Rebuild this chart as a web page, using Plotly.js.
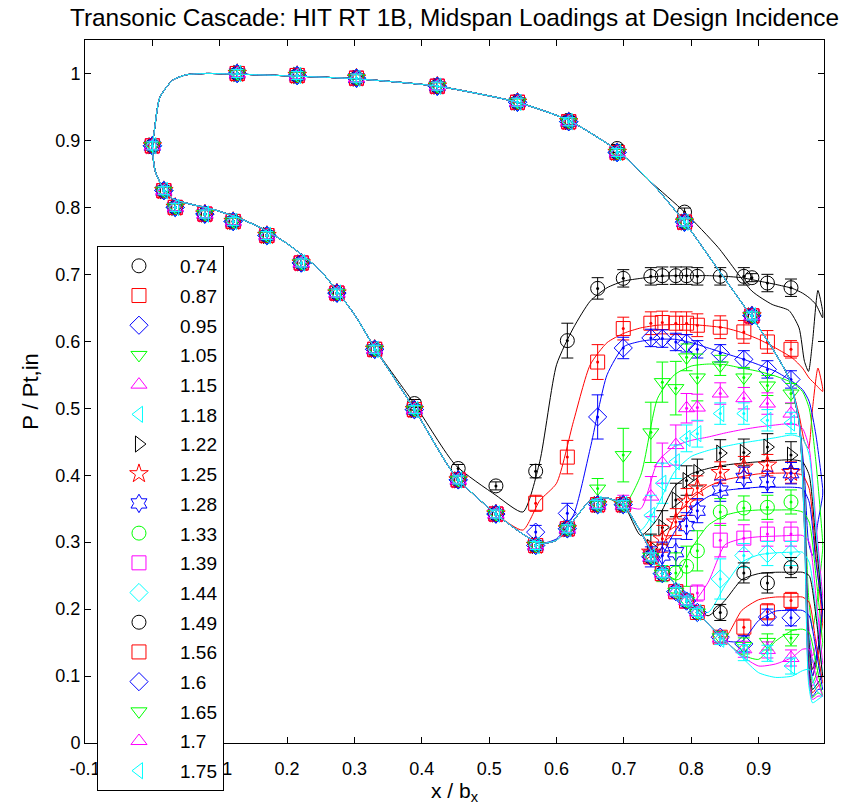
<!DOCTYPE html>
<html><head><meta charset="utf-8">
<script src="https://cdn.plot.ly/plotly-3.0.1.min.js"></script>
<style>body{margin:0;background:#fff}#chart{width:844px;height:810px}</style>
</head><body><div id="chart"></div>
<script>
const TITLE = 'Transonic Cascade: HIT RT 1B, Midspan Loadings at Design Incidence';
const X_TICKS = [-0.1, 0, 0.1, 0.2, 0.3, 0.4, 0.5, 0.6, 0.7, 0.8, 0.9];
const X_TICK_TEXT = ['-0.1', '0', '0.1', '0.2', '0.3', '0.4', '0.5', '0.6', '0.7', '0.8', '0.9'];
const Y_TICKS = [0, 0.1, 0.2, 0.3, 0.4, 0.5, 0.6, 0.7, 0.8, 0.9, 1];
const Y_TICK_TEXT = ['0', '0.1', '0.2', '0.3', '0.4', '0.5', '0.6', '0.7', '0.8', '0.9', '1'];

// series (exit Mach numbers)
const NAMES = ['0.74','0.87','0.95','1.05','1.15','1.18','1.22','1.25','1.28','1.33','1.39','1.44','1.49','1.56','1.6','1.65','1.7','1.75'];
const COLORS = ['#000000','#ff0000','#0000ff','#00ff00','#ff00ff','#00ffff','#000000','#ff0000','#0000ff','#00ff00','#ff00ff','#00ffff','#000000','#ff0000','#0000ff','#00ff00','#ff00ff','#00ffff'];
const SYMBOLS = ['circle-open','square-open','diamond-open','triangle-down-open','triangle-up-open','triangle-left-open','triangle-right-open','star-open','hexagram-open','circle-open','square-open','diamond-open','circle-open','square-open','diamond-open','triangle-down-open','triangle-up-open','triangle-left-open'];

// ---------- experimental data ----------
// leading edge + front suction side (shared by all cases)
const EXP_LE_X = [0.0, 0.017, 0.034, 0.078, 0.12, 0.17, 0.221, 0.274, 0.33];
const EXP_LE_Y = [0.892, 0.825, 0.80, 0.79, 0.779, 0.758, 0.717, 0.672, 0.588];
const EXP_LE_ERR = [0.006, 0.006, 0.006, 0.006, 0.006, 0.006, 0.006, 0.006, 0.006];
// pressure side taps
const EXP_PS_X = [0.126, 0.215, 0.303, 0.423, 0.542, 0.618, 0.69, 0.79, 0.89];
const EXP_PS_Y = [1.0, 0.997, 0.993, 0.981, 0.957, 0.928, 0.882, 0.778, 0.638];
const EXP_PS_Y_LOW = [1.0, 0.997, 0.993, 0.981, 0.957, 0.93, 0.888, 0.793, 0.695]; // M=0.74
const EXP_PS_ERR = [0.006, 0.006, 0.006, 0.006, 0.006, 0.006, 0.006, 0.006, 0.006];
// rear suction side taps
const EXP_SS_X = [0.389, 0.454, 0.51, 0.569, 0.616, 0.661, 0.699, 0.74, 0.757, 0.777, 0.793, 0.809, 0.843, 0.878, 0.913, 0.948];
const EXP_SS_Y = [
  [0.507, 0.41, 0.384, 0.406, 0.601, 0.679, 0.694, 0.697, 0.698, 0.698, 0.698, 0.697, 0.697, 0.697, 0.687, 0.68],
  [0.498, 0.393, 0.342, 0.358, 0.427, 0.569, 0.619, 0.627, 0.628, 0.627, 0.627, 0.624, 0.621, 0.614, 0.599, 0.588],
  [0.498, 0.393, 0.342, 0.315, 0.343, 0.487, 0.59, 0.605, 0.604, 0.599, 0.597, 0.588, 0.582, 0.573, 0.558, 0.543],
  [0.498, 0.393, 0.342, 0.295, 0.32, 0.38, 0.43, 0.464, 0.539, 0.53, 0.576, 0.546, 0.564, 0.546, 0.534, 0.522],
  [0.498, 0.393, 0.342, 0.295, 0.32, 0.356, 0.36, 0.368, 0.418, 0.445, 0.50, 0.501, 0.522, 0.515, 0.507, 0.492],
  [0.498, 0.393, 0.342, 0.295, 0.32, 0.356, 0.356, 0.34, 0.388, 0.42, 0.455, 0.462, 0.492, 0.492, 0.482, 0.478],
  [0.498, 0.393, 0.342, 0.295, 0.32, 0.356, 0.356, 0.292, 0.322, 0.363, 0.392, 0.404, 0.433, 0.434, 0.442, 0.43],
  [0.498, 0.393, 0.342, 0.295, 0.32, 0.356, 0.356, 0.285, 0.305, 0.33, 0.36, 0.381, 0.404, 0.412, 0.415, 0.404],
  [0.498, 0.393, 0.342, 0.295, 0.32, 0.356, 0.356, 0.278, 0.28, 0.285, 0.324, 0.347, 0.377, 0.396, 0.39, 0.403],
  [0.498, 0.393, 0.342, 0.295, 0.32, 0.356, 0.356, 0.278, 0.253, 0.254, 0.264, 0.287, 0.345, 0.351, 0.352, 0.36],
  [0.498, 0.393, 0.342, 0.295, 0.32, 0.356, 0.356, 0.278, 0.253, 0.226, 0.212, 0.224, 0.303, 0.306, 0.312, 0.312],
  [0.498, 0.393, 0.342, 0.295, 0.32, 0.356, 0.356, 0.278, 0.253, 0.226, 0.212, 0.195, 0.245, 0.28, 0.283, 0.283],
  [0.498, 0.393, 0.342, 0.295, 0.32, 0.356, 0.356, 0.278, 0.253, 0.226, 0.212, 0.195, 0.195, 0.254, 0.239, 0.262],
  [0.498, 0.393, 0.342, 0.295, 0.32, 0.356, 0.356, 0.278, 0.253, 0.226, 0.212, 0.195, 0.158, 0.173, 0.196, 0.213],
  [0.498, 0.393, 0.342, 0.295, 0.32, 0.356, 0.356, 0.278, 0.253, 0.226, 0.212, 0.195, 0.158, 0.148, 0.188, 0.187],
  [0.498, 0.393, 0.342, 0.295, 0.32, 0.356, 0.356, 0.278, 0.253, 0.226, 0.212, 0.195, 0.158, 0.145, 0.151, 0.157],
  [0.498, 0.393, 0.342, 0.295, 0.32, 0.356, 0.356, 0.278, 0.253, 0.226, 0.212, 0.195, 0.156, 0.14, 0.139, 0.127],
  [0.498, 0.393, 0.342, 0.295, 0.32, 0.356, 0.356, 0.278, 0.253, 0.226, 0.212, 0.195, 0.155, 0.135, 0.134, 0.115]
];
const EXP_SS_ERR = [
  [0.006, 0.006, 0.006, 0.01, 0.026, 0.016, 0.013, 0.013, 0.013, 0.013, 0.013, 0.013, 0.013, 0.013, 0.013, 0.013],
  [0.006, 0.006, 0.006, 0.012, 0.025, 0.026, 0.017, 0.017, 0.017, 0.017, 0.017, 0.017, 0.017, 0.017, 0.017, 0.013],
  [0.006, 0.006, 0.006, 0.01, 0.015, 0.033, 0.016, 0.013, 0.013, 0.013, 0.013, 0.013, 0.013, 0.013, 0.013, 0.013],
  [0.006, 0.006, 0.006, 0.006, 0.008, 0.015, 0.04, 0.045, 0.03, 0.04, 0.02, 0.035, 0.015, 0.015, 0.015, 0.015],
  [0.006, 0.006, 0.006, 0.006, 0.006, 0.006, 0.01, 0.03, 0.03, 0.03, 0.022, 0.02, 0.016, 0.016, 0.016, 0.016],
  [0.006, 0.006, 0.006, 0.006, 0.006, 0.006, 0.008, 0.03, 0.03, 0.025, 0.02, 0.02, 0.016, 0.016, 0.016, 0.016],
  [0.006, 0.006, 0.006, 0.006, 0.006, 0.006, 0.006, 0.02, 0.025, 0.025, 0.022, 0.02, 0.02, 0.02, 0.02, 0.02],
  [0.006, 0.006, 0.006, 0.006, 0.006, 0.006, 0.006, 0.015, 0.02, 0.02, 0.02, 0.018, 0.016, 0.016, 0.016, 0.016],
  [0.006, 0.006, 0.006, 0.006, 0.006, 0.006, 0.006, 0.015, 0.02, 0.02, 0.02, 0.018, 0.016, 0.016, 0.016, 0.016],
  [0.006, 0.006, 0.006, 0.006, 0.006, 0.006, 0.006, 0.01, 0.012, 0.03, 0.03, 0.03, 0.02, 0.018, 0.018, 0.018],
  [0.006, 0.006, 0.006, 0.006, 0.006, 0.006, 0.006, 0.006, 0.006, 0.008, 0.01, 0.012, 0.025, 0.02, 0.018, 0.018],
  [0.006, 0.006, 0.006, 0.006, 0.006, 0.006, 0.006, 0.006, 0.006, 0.006, 0.008, 0.01, 0.03, 0.018, 0.018, 0.018],
  [0.006, 0.006, 0.006, 0.006, 0.006, 0.006, 0.006, 0.006, 0.006, 0.006, 0.006, 0.006, 0.012, 0.015, 0.015, 0.015],
  [0.006, 0.006, 0.006, 0.006, 0.006, 0.006, 0.006, 0.006, 0.006, 0.006, 0.006, 0.006, 0.008, 0.012, 0.012, 0.012],
  [0.006, 0.006, 0.006, 0.006, 0.006, 0.006, 0.006, 0.006, 0.006, 0.006, 0.006, 0.006, 0.008, 0.012, 0.012, 0.012],
  [0.006, 0.006, 0.006, 0.006, 0.006, 0.006, 0.006, 0.006, 0.006, 0.006, 0.006, 0.006, 0.008, 0.012, 0.012, 0.012],
  [0.006, 0.006, 0.006, 0.006, 0.006, 0.006, 0.006, 0.006, 0.006, 0.006, 0.006, 0.006, 0.008, 0.012, 0.012, 0.012],
  [0.006, 0.006, 0.006, 0.006, 0.006, 0.006, 0.006, 0.006, 0.006, 0.006, 0.006, 0.006, 0.008, 0.012, 0.012, 0.012]
];

// ---------- CFD curves ----------
// common front suction side (LE -> x=0.33)
const CFD_SS_FRONT_X = [0.0, 0.004, 0.015, 0.03, 0.056, 0.09, 0.126, 0.16, 0.2, 0.249, 0.3, 0.33];
const CFD_SS_FRONT_Y = [0.89, 0.855, 0.83, 0.813, 0.805, 0.797, 0.785, 0.77, 0.746, 0.706, 0.64, 0.59];
// rear suction side, per case
const CFD_SS_X = [0.39, 0.45, 0.51, 0.55, 0.575, 0.6, 0.625, 0.65, 0.675, 0.70, 0.725, 0.75, 0.775, 0.80, 0.825, 0.85, 0.875, 0.90, 0.925, 0.95, 0.965, 0.975, 0.985, 0.995];
const CFD_SS_Y = [
  [0.505, 0.415, 0.37, 0.345, 0.42, 0.565, 0.62, 0.66, 0.68, 0.69, 0.694, 0.697, 0.698, 0.698, 0.698, 0.697, 0.695, 0.69, 0.685, 0.679, 0.672, 0.665, 0.655, 0.635],
  [0.497, 0.398, 0.342, 0.318, 0.362, 0.388, 0.48, 0.565, 0.598, 0.612, 0.62, 0.624, 0.625, 0.625, 0.623, 0.62, 0.613, 0.603, 0.59, 0.575, 0.56, 0.545, 0.535, 0.525],
  [0.497, 0.398, 0.342, 0.312, 0.298, 0.305, 0.34, 0.44, 0.55, 0.592, 0.6, 0.603, 0.603, 0.598, 0.59, 0.582, 0.574, 0.565, 0.555, 0.54, 0.528, 0.51, 0.46, 0.38],
  [0.497, 0.398, 0.342, 0.312, 0.298, 0.303, 0.332, 0.362, 0.366, 0.355, 0.40, 0.515, 0.55, 0.563, 0.566, 0.565, 0.56, 0.555, 0.548, 0.538, 0.525, 0.50, 0.42, 0.30],
  [0.497, 0.398, 0.342, 0.312, 0.298, 0.303, 0.332, 0.362, 0.366, 0.355, 0.35, 0.42, 0.443, 0.452, 0.457, 0.463, 0.468, 0.472, 0.475, 0.477, 0.47, 0.44, 0.33, 0.22],
  [0.497, 0.398, 0.342, 0.312, 0.298, 0.303, 0.332, 0.362, 0.366, 0.355, 0.318, 0.355, 0.405, 0.428, 0.437, 0.443, 0.448, 0.452, 0.456, 0.46, 0.455, 0.43, 0.32, 0.2],
  [0.497, 0.398, 0.342, 0.312, 0.298, 0.303, 0.332, 0.362, 0.366, 0.355, 0.31, 0.335, 0.383, 0.402, 0.41, 0.415, 0.418, 0.42, 0.422, 0.423, 0.42, 0.40, 0.3, 0.2],
  [0.497, 0.398, 0.342, 0.312, 0.298, 0.303, 0.332, 0.362, 0.366, 0.355, 0.315, 0.283, 0.335, 0.365, 0.383, 0.393, 0.398, 0.402, 0.403, 0.403, 0.40, 0.38, 0.28, 0.18],
  [0.497, 0.398, 0.342, 0.312, 0.298, 0.303, 0.332, 0.362, 0.366, 0.355, 0.315, 0.272, 0.315, 0.35, 0.368, 0.377, 0.38, 0.382, 0.382, 0.382, 0.38, 0.36, 0.27, 0.2],
  [0.497, 0.398, 0.342, 0.312, 0.298, 0.303, 0.332, 0.362, 0.366, 0.355, 0.315, 0.27, 0.245, 0.29, 0.325, 0.34, 0.346, 0.348, 0.348, 0.348, 0.345, 0.33, 0.25, 0.15],
  [0.497, 0.398, 0.342, 0.312, 0.298, 0.303, 0.332, 0.362, 0.366, 0.355, 0.315, 0.27, 0.238, 0.208, 0.24, 0.296, 0.305, 0.308, 0.309, 0.31, 0.31, 0.30, 0.22, 0.12],
  [0.497, 0.398, 0.342, 0.312, 0.298, 0.303, 0.332, 0.362, 0.366, 0.355, 0.315, 0.27, 0.238, 0.208, 0.195, 0.235, 0.27, 0.281, 0.284, 0.285, 0.285, 0.27, 0.2, 0.1],
  [0.497, 0.398, 0.342, 0.312, 0.298, 0.303, 0.332, 0.362, 0.366, 0.355, 0.315, 0.27, 0.238, 0.208, 0.19, 0.213, 0.244, 0.253, 0.255, 0.255, 0.255, 0.25, 0.19, 0.1],
  [0.497, 0.398, 0.342, 0.312, 0.298, 0.303, 0.332, 0.362, 0.366, 0.355, 0.315, 0.27, 0.238, 0.208, 0.178, 0.158, 0.198, 0.214, 0.218, 0.218, 0.218, 0.21, 0.15, 0.09],
  [0.497, 0.398, 0.342, 0.312, 0.298, 0.303, 0.332, 0.362, 0.366, 0.355, 0.315, 0.27, 0.238, 0.208, 0.178, 0.153, 0.152, 0.183, 0.197, 0.198, 0.198, 0.19, 0.14, 0.08],
  [0.497, 0.398, 0.342, 0.312, 0.298, 0.303, 0.332, 0.362, 0.366, 0.355, 0.315, 0.27, 0.238, 0.208, 0.178, 0.153, 0.132, 0.125, 0.152, 0.168, 0.17, 0.165, 0.12, 0.07],
  [0.497, 0.398, 0.342, 0.312, 0.298, 0.303, 0.332, 0.362, 0.366, 0.355, 0.315, 0.27, 0.238, 0.208, 0.178, 0.153, 0.13, 0.115, 0.118, 0.128, 0.14, 0.14, 0.1, 0.07],
  [0.497, 0.398, 0.342, 0.312, 0.298, 0.303, 0.332, 0.362, 0.366, 0.355, 0.315, 0.27, 0.238, 0.208, 0.178, 0.153, 0.128, 0.105, 0.098, 0.1, 0.108, 0.11, 0.08, 0.07]
];
// common pressure side (LE -> x=0.74)
const CFD_PS_FRONT_X = [0.0, 0.003, 0.011, 0.03, 0.05, 0.08, 0.126, 0.215, 0.303, 0.423, 0.542, 0.618, 0.69, 0.74];
const CFD_PS_FRONT_Y = [0.89, 0.915, 0.964, 0.99, 0.998, 1.0, 0.999, 0.996, 0.992, 0.981, 0.957, 0.93, 0.885, 0.838];
// rear pressure side + trailing edge, per case
const CFD_PS_X = [0.79, 0.84, 0.89, 0.92, 0.945, 0.96, 0.968, 0.974, 0.98, 0.988, 0.995];
const CFD_PS_Y = [
  [0.793, 0.74, 0.675, 0.655, 0.646, 0.62, 0.57, 0.555, 0.60, 0.676, 0.645],
  [0.778, 0.707, 0.636, 0.59, 0.545, 0.49, 0.45, 0.44, 0.50, 0.56, 0.53],
  [0.778, 0.707, 0.636, 0.59, 0.545, 0.48, 0.40, 0.30, 0.28, 0.33, 0.37],
  [0.778, 0.707, 0.636, 0.59, 0.545, 0.48, 0.37, 0.22, 0.17, 0.22, 0.29],
  [0.778, 0.707, 0.636, 0.59, 0.545, 0.48, 0.36, 0.18, 0.13, 0.16, 0.22],
  [0.778, 0.707, 0.636, 0.59, 0.545, 0.48, 0.36, 0.17, 0.12, 0.14, 0.2],
  [0.778, 0.707, 0.636, 0.59, 0.545, 0.48, 0.35, 0.16, 0.11, 0.14, 0.2],
  [0.778, 0.707, 0.636, 0.59, 0.545, 0.48, 0.35, 0.15, 0.10, 0.13, 0.18],
  [0.778, 0.707, 0.636, 0.59, 0.545, 0.48, 0.35, 0.15, 0.10, 0.14, 0.2],
  [0.778, 0.707, 0.636, 0.59, 0.545, 0.48, 0.34, 0.14, 0.09, 0.11, 0.15],
  [0.778, 0.707, 0.636, 0.59, 0.545, 0.48, 0.34, 0.13, 0.085, 0.10, 0.12],
  [0.778, 0.707, 0.636, 0.59, 0.545, 0.48, 0.34, 0.12, 0.08, 0.09, 0.1],
  [0.778, 0.707, 0.636, 0.59, 0.545, 0.48, 0.33, 0.12, 0.08, 0.09, 0.1],
  [0.778, 0.707, 0.636, 0.59, 0.545, 0.48, 0.33, 0.11, 0.075, 0.085, 0.09],
  [0.778, 0.707, 0.636, 0.59, 0.545, 0.48, 0.33, 0.11, 0.07, 0.08, 0.08],
  [0.778, 0.707, 0.636, 0.59, 0.545, 0.48, 0.32, 0.10, 0.068, 0.075, 0.07],
  [0.778, 0.707, 0.636, 0.59, 0.545, 0.48, 0.32, 0.10, 0.065, 0.07, 0.07],
  [0.778, 0.707, 0.636, 0.59, 0.545, 0.48, 0.32, 0.09, 0.06, 0.065, 0.07]
];

// ---------- build traces ----------
const rev = a => a.slice().reverse();
const traces = [];
NAMES.forEach((name, i) => {
  const col = COLORS[i];
  const grp = 'g' + i;
  // CFD line: suction side LE->TE, then pressure side TE->LE
  const lx = [].concat(CFD_SS_FRONT_X, CFD_SS_X, rev(CFD_PS_X), rev(CFD_PS_FRONT_X));
  const ly = [].concat(CFD_SS_FRONT_Y, CFD_SS_Y[i], rev(CFD_PS_Y[i]), rev(CFD_PS_FRONT_Y));
  traces.push({x: lx, y: ly, mode: 'lines', type: 'scatter', line: {color: col, width: 1, shape: 'spline', smoothing: 0.6},
    legendgroup: grp, showlegend: false, hoverinfo: 'skip'});
  const ex = [].concat(EXP_LE_X, EXP_PS_X, EXP_SS_X);
  const ey = [].concat(EXP_LE_Y, i === 0 ? EXP_PS_Y_LOW : EXP_PS_Y, EXP_SS_Y[i]);
  const ee = [].concat(EXP_LE_ERR, EXP_PS_ERR, EXP_SS_ERR[i]);
  traces.push({x: ex, y: ey, mode: 'markers', type: 'scatter', marker: {symbol: 'circle', size: 3, color: col},
    error_y: {type: 'data', array: ee, visible: true, color: col, thickness: 1, width: 6},
    legendgroup: grp, showlegend: false});
  traces.push({x: ex, y: ey, mode: 'markers', type: 'scatter', name: name,
    marker: {symbol: SYMBOLS[i], size: 14, color: col, line: {color: col, width: 1}},
    legendgroup: grp, showlegend: true});
});

const axisCommon = {ticks: 'inside', ticklen: 6, tickcolor: '#000', mirror: 'ticks', showline: true,
  linecolor: '#000', linewidth: 1, showgrid: false, zeroline: false, tickfont: {size: 18, color: '#000'}};

const layout = {
  width: 844, height: 810,
  margin: {l: 85, r: 20, t: 40, b: 67, autoexpand: false},
  paper_bgcolor: '#fff', plot_bgcolor: '#fff',
  font: {family: 'Liberation Sans, Arial, sans-serif', size: 18, color: '#000'},
  title: {text: TITLE, font: {size: 24.4, color: '#000'}, x: 0.5, xref: 'paper', xanchor: 'center',
    y: 0.979, yref: 'container', yanchor: 'middle'},
  xaxis: Object.assign({}, axisCommon, {range: [-0.1, 0.997], tickvals: X_TICKS, ticktext: X_TICK_TEXT,
    ticklabelstandoff: 9,
    title: {text: 'x / b<sub>x</sub>', font: {size: 21}, standoff: 2}}),
  yaxis: Object.assign({}, axisCommon, {range: [0, 1.05], tickvals: Y_TICKS, ticktext: Y_TICK_TEXT,
    title: {text: 'P / Pt,in', font: {size: 22}, standoff: 10}}),
  showlegend: true,
  legend: {x: 0.0162, y: 0.707, xanchor: 'left', yanchor: 'top', bgcolor: '#fff', bordercolor: '#000',
    borderwidth: 1, font: {size: 19, color: '#000'}, itemwidth: 72, tracegroupgap: 2, traceorder: 'grouped'}
};

Plotly.newPlot('chart', traces, layout, {displayModeBar: false, staticPlot: true});
</script></body></html>
